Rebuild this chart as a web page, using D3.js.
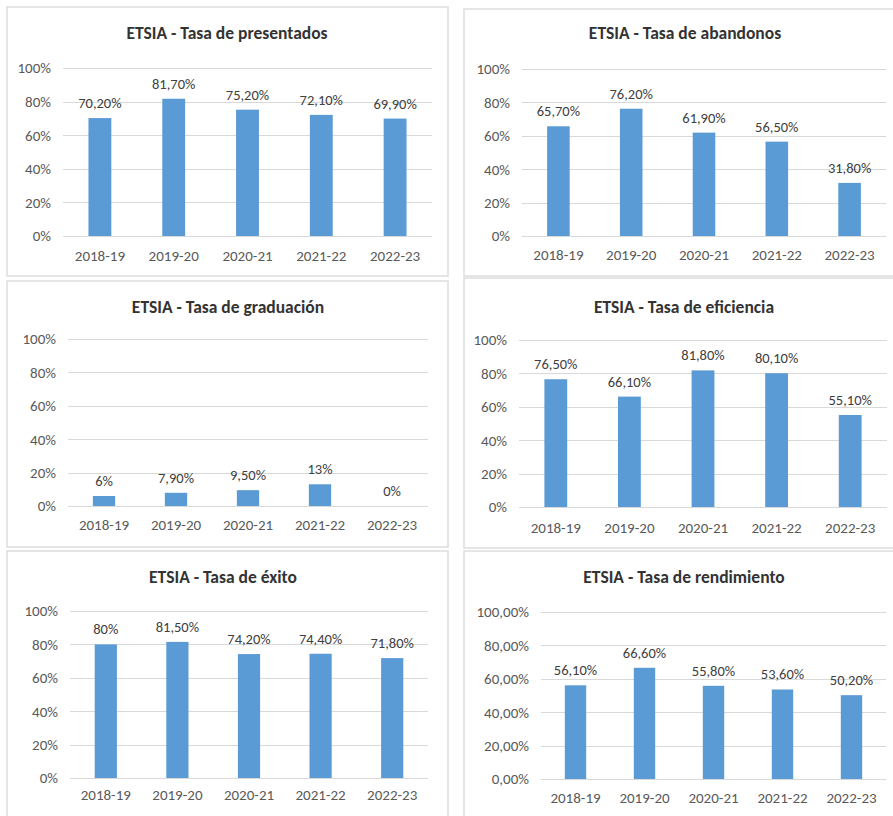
<!DOCTYPE html>
<html>
<head>
<meta charset="utf-8">
<script src="https://cdn.jsdelivr.net/npm/d3@7"></script>
<style>
  html, body { margin: 0; padding: 0; background: #fff; }
  svg { display: block; }
  text { font-family: Carlito, Lato, "Open Sans", sans-serif; }
</style>
</head>
<body>
<svg id="chart" width="893" height="816"></svg>
<script>
// ---- data ----
const categories = ["2018-19", "2019-20", "2020-21", "2021-22", "2022-23"];
const titles = [
  "ETSIA - Tasa de presentados",
  "ETSIA - Tasa de abandonos",
  "ETSIA - Tasa de graduación",
  "ETSIA - Tasa de eficiencia",
  "ETSIA - Tasa de éxito",
  "ETSIA - Tasa de rendimiento"
];
const presentados = [70.2, 81.7, 75.2, 72.1, 69.9];
const abandonos   = [65.7, 76.2, 61.9, 56.5, 31.8];
const graduacion  = [6, 7.9, 9.5, 13, 0];
const eficiencia  = [76.5, 66.1, 81.8, 80.1, 55.1];
const exito       = [80, 81.5, 74.2, 74.4, 71.8];
const rendimiento = [56.1, 66.6, 55.8, 53.6, 50.2];
const yTicks = [0, 20, 40, 60, 80, 100];
const yTickLabelsInt = ["0%", "20%", "40%", "60%", "80%", "100%"];
const yTickLabelsDec = ["0,00%", "20,00%", "40,00%", "60,00%", "80,00%", "100,00%"];

const series = [presentados, abandonos, graduacion, eficiencia, exito, rendimiento];
const tickLabelSets = [yTickLabelsInt, yTickLabelsInt, yTickLabelsInt, yTickLabelsInt, yTickLabelsInt, yTickLabelsDec];

// ---- layout (per panel) ----
const layout = [
  {box:[7,7,441,269],   gx:[63,432],  y0:236, y1:68,  xl:258, ty:39, tx:227},
  {box:[464,9,440,267], gx:[522,886], y0:236, y1:69,  xl:257, ty:39, tx:685},
  {box:[7,281,441,266], gx:[68,428],  y0:506, y1:339, xl:527, ty:313, tx:228},
  {box:[464,278,440,270], gx:[519,887], y0:507, y1:340, xl:530, ty:313, tx:684},
  {box:[7,551,441,290], gx:[70,428],  y0:778, y1:611, xl:797, ty:583, tx:223},
  {box:[464,551,440,290], gx:[541,886], y0:779, y1:612, xl:800, ty:583, tx:684}
];

const BAR = "#5B9BD5", GRID = "#D9D9D9", TXT = "#595959", BORDER = "#DDDDDD";
const FONT = "Carlito, Lato, 'Open Sans', sans-serif";
const svg = d3.select("#chart");

function fmtLabel(v) {
  return Number.isInteger(v) ? v + "%" : v.toFixed(2).replace(".", ",") + "%";
}

series.forEach((vals, i) => {
  const L = layout[i];
  const g = svg.append("g");
  g.append("rect")
    .attr("x", L.box[0]).attr("y", L.box[1])
    .attr("width", L.box[2]).attr("height", L.box[3])
    .attr("fill", "#fff").attr("stroke", BORDER).attr("stroke-width", 1.5);

  const x = d3.scaleBand().domain(categories).range(L.gx)
    .paddingInner(0.69).paddingOuter(0.345);
  const y = d3.scaleLinear().domain([0, 100]).range([L.y0, L.y1]);

  // gridlines
  g.append("g").selectAll("line").data(yTicks).join("line")
    .attr("x1", L.gx[0]).attr("x2", L.gx[1])
    .attr("y1", d => Math.round(y(d)) + 0.5).attr("y2", d => Math.round(y(d)) + 0.5)
    .attr("stroke", GRID).attr("stroke-width", 1);

  // y axis labels
  const labs = tickLabelSets[i];
  const ya = g.append("g").attr("transform", `translate(${L.gx[0]},0)`)
    .call(d3.axisLeft(y).tickValues(yTicks).tickSize(0).tickPadding(12)
      .tickFormat((d, k) => labs[k]));
  ya.select(".domain").remove();
  ya.selectAll("text").attr("fill", TXT).style("font-size", "15px")
    .style("font-family", FONT);

  // x axis labels
  const xa = g.append("g").attr("transform", `translate(0,${L.xl - 11})`)
    .call(d3.axisBottom(x).tickSize(0).tickPadding(3));
  xa.select(".domain").remove();
  xa.selectAll("text").attr("fill", TXT).style("font-size", "15px")
    .style("font-family", FONT);

  // bars
  g.append("g").selectAll("rect").data(vals).join("rect")
    .attr("x", (d, k) => x(categories[k]))
    .attr("width", x.bandwidth())
    .attr("y", d => y(d))
    .attr("height", d => y(0) - y(d))
    .attr("fill", BAR);

  // data labels
  g.append("g").selectAll("text").data(vals).join("text")
    .attr("x", (d, k) => x(categories[k]) + x.bandwidth() / 2)
    .attr("y", d => y(d) - 10)
    .attr("text-anchor", "middle")
    .attr("fill", "#404040")
    .style("font-size", "14.5px")
    .text(d => fmtLabel(d));

  // title
  g.append("text")
    .attr("x", L.tx).attr("y", L.ty)
    .attr("text-anchor", "middle")
    .attr("fill", "#333")
    .style("font-size", "17.5px")
    .style("font-weight", "bold")
    .text(titles[i]);
});
</script>
</body>
</html>
